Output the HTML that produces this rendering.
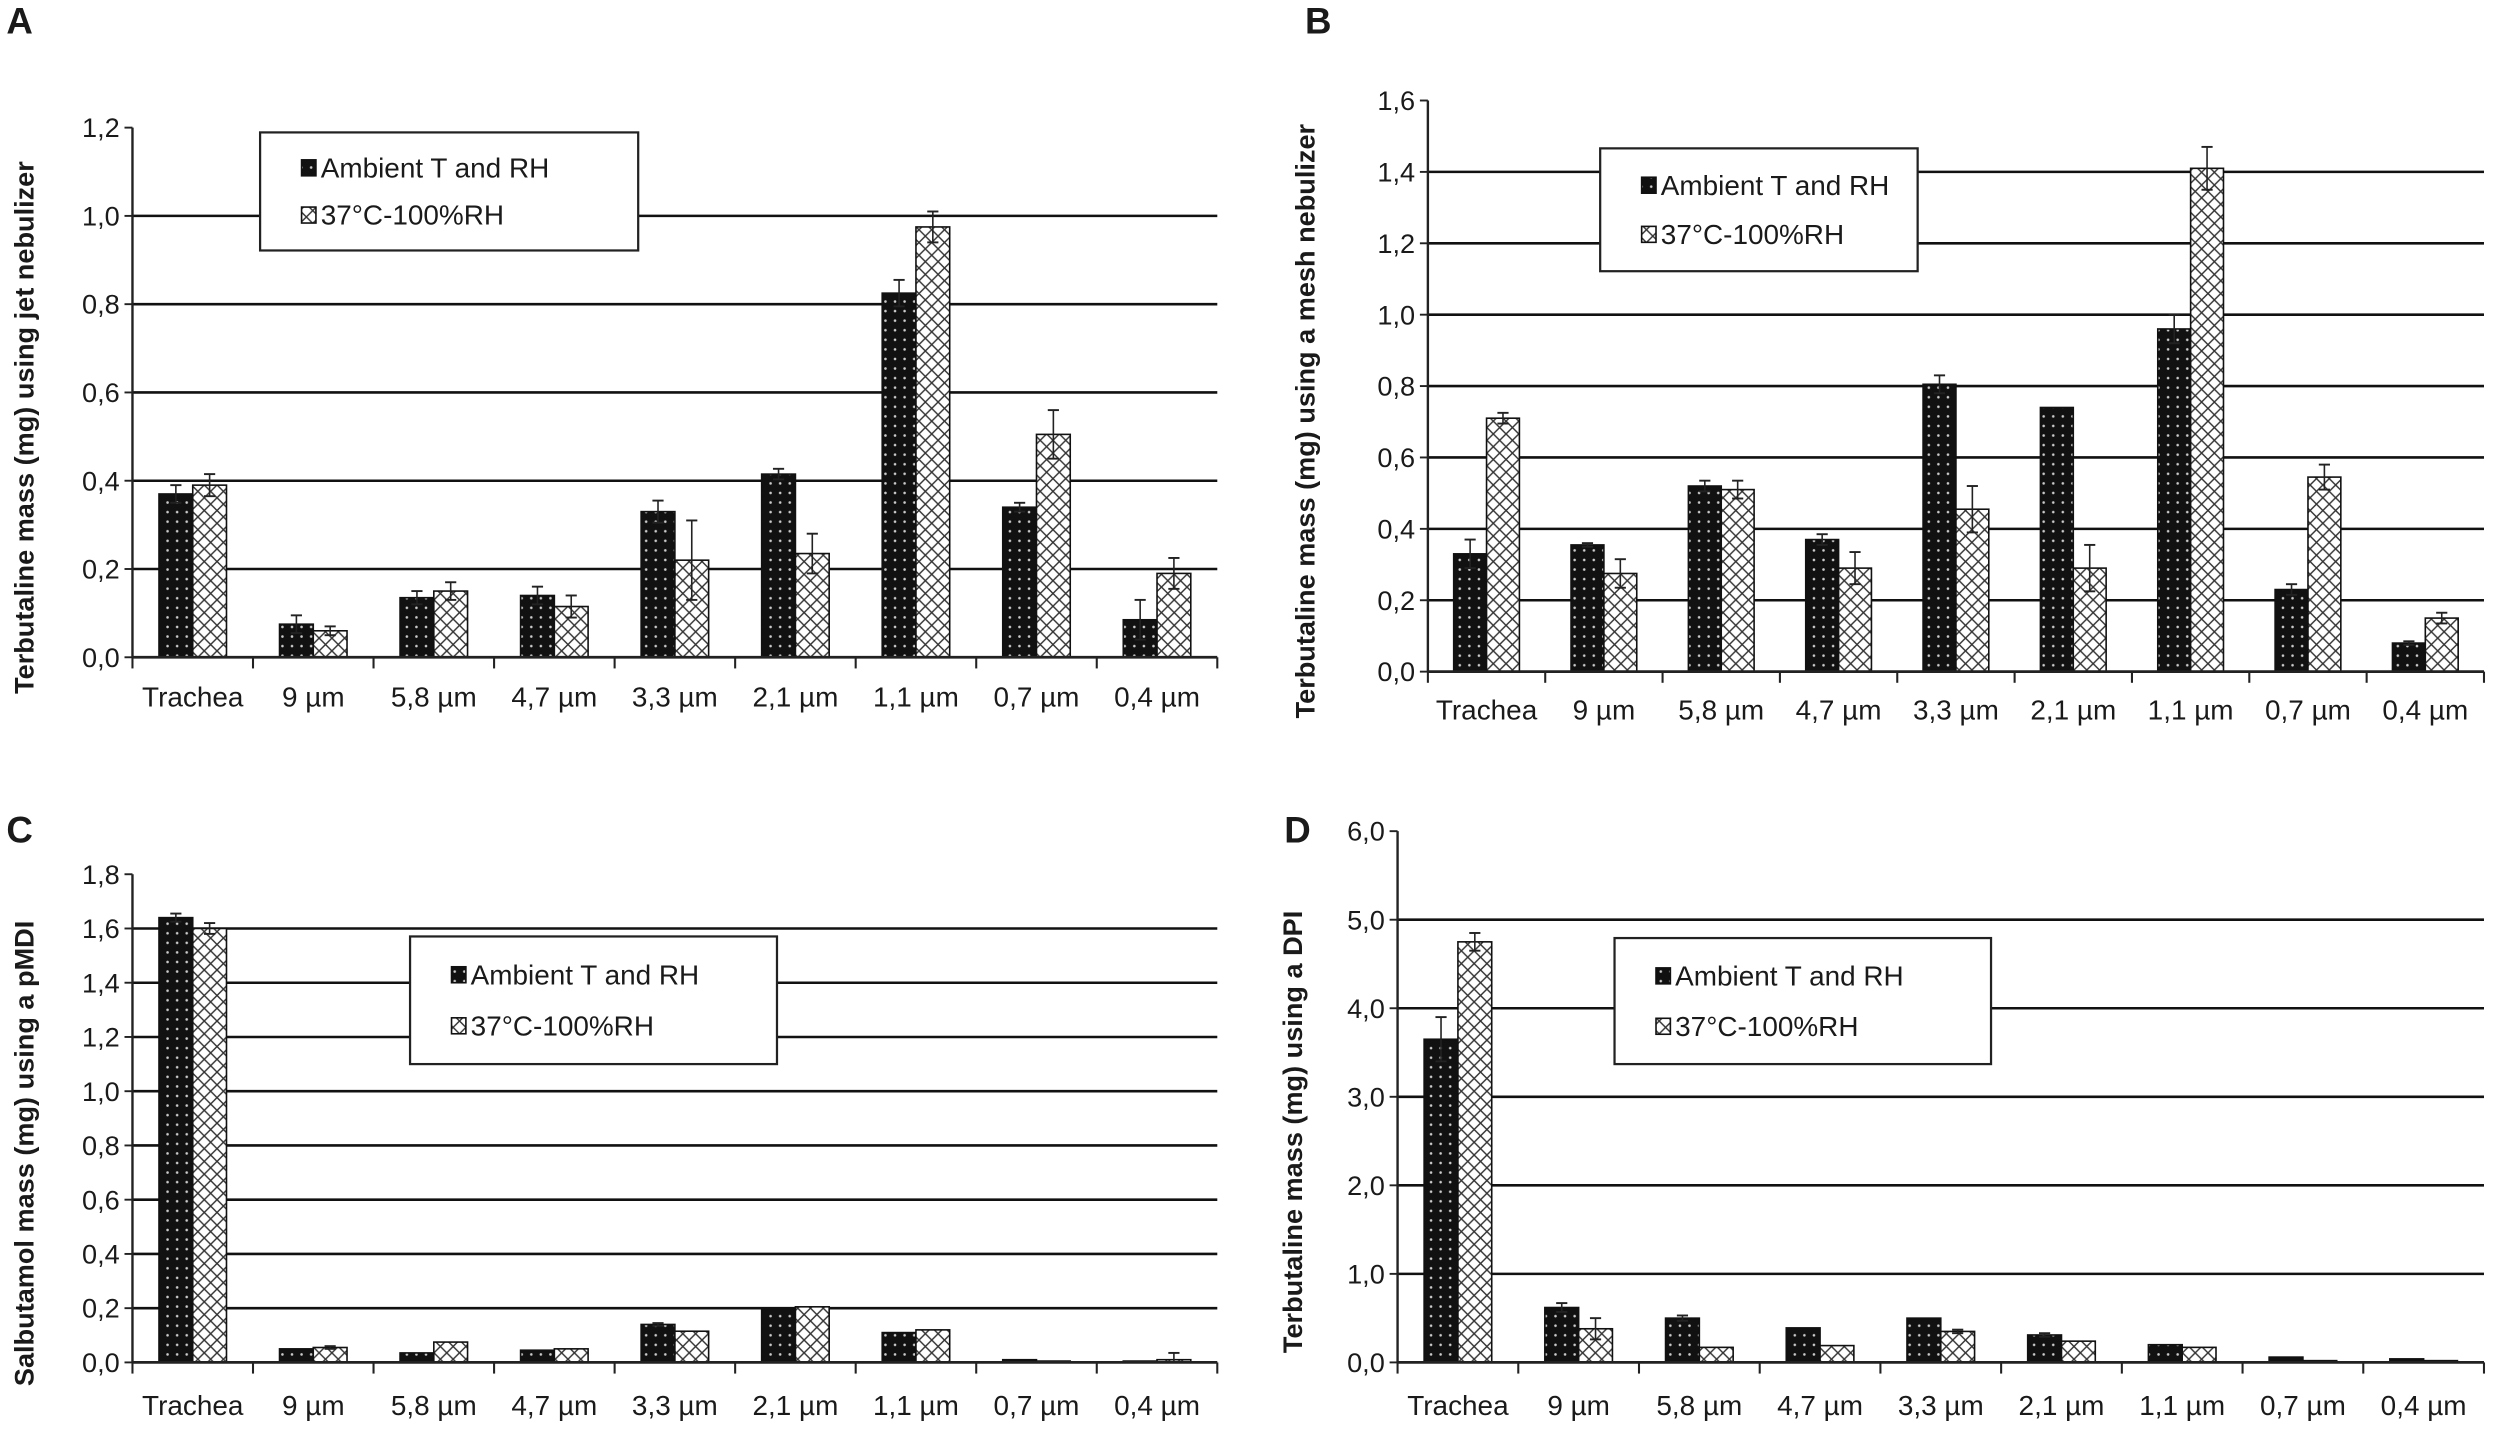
<!DOCTYPE html>
<html><head><meta charset="utf-8"><style>
html,body{margin:0;padding:0;background:#fff;}
svg{display:block;}
text{font-family:"Liberation Sans",sans-serif;fill:#1a1a1a;}
</style></head><body>
<svg id="fig" width="2500" height="1435" viewBox="0 0 1567 899.5" xmlns="http://www.w3.org/2000/svg">
<defs>
<pattern id="dots" width="6" height="6" patternUnits="userSpaceOnUse">
<rect width="6" height="6" fill="#111"/><circle cx="3" cy="3" r="0.8" fill="#ccc"/>
</pattern>
<pattern id="hatch" width="8" height="8" patternUnits="userSpaceOnUse">
<rect width="8" height="8" fill="#fff"/><path d="M0,0L8,8M8,0L0,8" stroke="#333" stroke-width="0.9"/>
</pattern>
</defs>
</svg>
<script>
const categories = ["Trachea","9 µm","5,8 µm","4,7 µm","3,3 µm","2,1 µm","1,1 µm","0,7 µm","0,4 µm"];
const seriesNames = ["Ambient T and RH","37°C-100%RH"];
const aAmb = [0.37,0.075,0.135,0.14,0.33,0.415,0.825,0.34,0.085];
const aAmbErr = [0.02,0.02,0.015,0.02,0.025,0.012,0.03,0.01,0.045];
const aHot = [0.39,0.06,0.15,0.115,0.22,0.235,0.975,0.505,0.19];
const aHotErr = [0.025,0.01,0.02,0.025,0.09,0.045,0.035,0.055,0.035];
const bAmb = [0.33,0.355,0.52,0.37,0.805,0.74,0.96,0.23,0.08];
const bAmbErr = [0.04,0.005,0.015,0.015,0.025,0,0.04,0.015,0.005];
const bHot = [0.71,0.275,0.51,0.29,0.455,0.29,1.41,0.545,0.15];
const bHotErr = [0.015,0.04,0.025,0.045,0.065,0.065,0.06,0.035,0.015];
const cAmb = [1.64,0.05,0.035,0.045,0.14,0.2,0.11,0.01,0.005];
const cAmbErr = [0.015,0,0,0,0.005,0,0,0,0];
const cHot = [1.6,0.055,0.075,0.05,0.115,0.205,0.12,0.005,0.01];
const cHotErr = [0.02,0.005,0,0,0,0,0,0,0.025];
const dAmb = [3.65,0.62,0.5,0.39,0.5,0.31,0.2,0.06,0.04];
const dAmbErr = [0.25,0.05,0.03,0,0,0.02,0,0,0];
const dHot = [4.75,0.38,0.17,0.19,0.35,0.24,0.17,0.02,0.02];
const dHotErr = [0.1,0.12,0,0,0.02,0,0,0,0];
const aTicks = ["0,0","0,2","0,4","0,6","0,8","1,0","1,2"];
const bTicks = ["0,0","0,2","0,4","0,6","0,8","1,0","1,2","1,4","1,6"];
const cTicks = ["0,0","0,2","0,4","0,6","0,8","1,0","1,2","1,4","1,6","1,8"];
const dTicks = ["0,0","1,0","2,0","3,0","4,0","5,0","6,0"];

const NS="http://www.w3.org/2000/svg";
const svg=document.getElementById('fig');
function mk(tag,attrs,parent){const e=document.createElementNS(NS,tag);for(const k in attrs)e.setAttribute(k,attrs[k]);(parent||svg).appendChild(e);return e;}

const panels=[
 {id:'a',letter:'A',lx:4,ly:21,x0:83,x1:763,yTop:80,yBot:412,max:1.2,step:0.2,ticks:aTicks,amb:aAmb,ambE:aAmbErr,hot:aHot,hotE:aHotErr,title:"Terbutaline mass (mg) using jet nebulizer",tx:15,leg:[163,83,237,74],labY:443},
 {id:'b',letter:'B',lx:818,ly:21,x0:895,x1:1557,yTop:63,yBot:421,max:1.6,step:0.2,ticks:bTicks,amb:bAmb,ambE:bAmbErr,hot:bHot,hotE:bHotErr,title:"Terbutaline mass (mg) using a mesh nebulizer",tx:818,leg:[1003,93,199,77],labY:451},
 {id:'c',letter:'C',lx:4,ly:528,x0:83,x1:763,yTop:548,yBot:854,max:1.8,step:0.2,ticks:cTicks,amb:cAmb,ambE:cAmbErr,hot:cHot,hotE:cHotErr,title:"Salbutamol mass (mg) using a pMDI",tx:15,leg:[257,587,230,80],labY:887},
 {id:'d',letter:'D',lx:805,ly:528,x0:876,x1:1557,yTop:521,yBot:854,max:6.0,step:1.0,ticks:dTicks,amb:dAmb,ambE:dAmbErr,hot:dHot,hotE:dHotErr,title:"Terbutaline mass (mg) using a DPI",tx:810,leg:[1012,588,236,79],labY:887}
];

panels.forEach(p=>{
 const g=mk('g',{});
 
 
 const y=v=>p.yBot-(v/p.max)*(p.yBot-p.yTop);
 const cw=(p.x1-p.x0)/categories.length;
 const lt=mk('text',{x:p.lx,y:p.ly,'font-size':23,'font-weight':'bold'},g);lt.textContent=p.letter;
 
 
 p.ticks.forEach((t,i)=>{
  const v=i*p.step, yy=y(v);
  if(i>0 && i<p.ticks.length-1){const gl=mk('line',{x1:p.x0,x2:p.x1,y1:yy,y2:yy,stroke:'#111','stroke-width':1.6},g);
   
   }
  mk('line',{x1:p.x0-5,x2:p.x0,y1:yy,y2:yy,stroke:'#222','stroke-width':1.2},g);
  const tt=mk('text',{x:p.x0-8,y:yy+6,'font-size':17,'text-anchor':'end'},g);tt.textContent=t;
  
  
 });
 const bw=cw*0.28;
 categories.forEach((c,i)=>{
  const cx=p.x0+cw*i;
  [[p.amb,p.ambE,'url(#dots)',cx+cw*0.22],[p.hot,p.hotE,'url(#hatch)',cx+cw*0.22+bw]].forEach((s,si)=>{
   const v=s[0][i],e=s[1][i];
   const r=mk('rect',{x:s[3],y:y(v),width:bw,height:p.yBot-y(v),fill:s[2],stroke:'#111','stroke-width':1},g);
   
   
   if(e>0){const mx=s[3]+bw/2;
    mk('line',{x1:mx,x2:mx,y1:y(v+e),y2:y(Math.max(0,v-e)),stroke:'#222','stroke-width':1},g);
    mk('line',{x1:mx-3.5,x2:mx+3.5,y1:y(v+e),y2:y(v+e),stroke:'#222','stroke-width':1.2},g);
    mk('line',{x1:mx-3.5,x2:mx+3.5,y1:y(Math.max(0,v-e)),y2:y(Math.max(0,v-e)),stroke:'#222','stroke-width':1.2},g);}
  });
  const xl=mk('text',{x:cx+cw/2,y:p.labY,'font-size':17.5,'text-anchor':'middle'},g);xl.textContent=c;
  
  
 });
 for(let i=0;i<=categories.length;i++){const xx=p.x0+cw*i;mk('line',{x1:xx,x2:xx,y1:p.yBot,y2:p.yBot+7,stroke:'#222','stroke-width':1.3},g);}
 mk('line',{x1:p.x0,x2:p.x0,y1:p.yTop,y2:p.yBot,stroke:'#222','stroke-width':1.5},g);
 mk('line',{x1:p.x0,x2:p.x1,y1:p.yBot,y2:p.yBot,stroke:'#222','stroke-width':1.7},g);
 const cy=(p.yTop+p.yBot)/2+22;
 const yt=mk('text',{x:0,y:0,'font-size':17,'font-weight':'bold','text-anchor':'middle',transform:`translate(${p.tx+6},${cy}) rotate(-90)`},g);yt.textContent=p.title;
 
 
 const [lx,ly,lw,lh]=p.leg;
 const lg=mk('g',{},g);
 
 
 mk('rect',{x:lx,y:ly,width:lw,height:lh,fill:'#fff',stroke:'#222','stroke-width':1.4},lg);
 seriesNames.forEach((n,k)=>{
  const yy=ly+lh*(k?0.7:0.3);
  mk('rect',{x:lx+26,y:yy-5,width:9,height:10,fill:k?'url(#hatch)':'url(#dots)',stroke:'#111','stroke-width':1},lg);
  const t=mk('text',{x:lx+38,y:yy+6,'font-size':17.5},lg);t.textContent=n;
  
  
 });
});
</script>
</body></html>
